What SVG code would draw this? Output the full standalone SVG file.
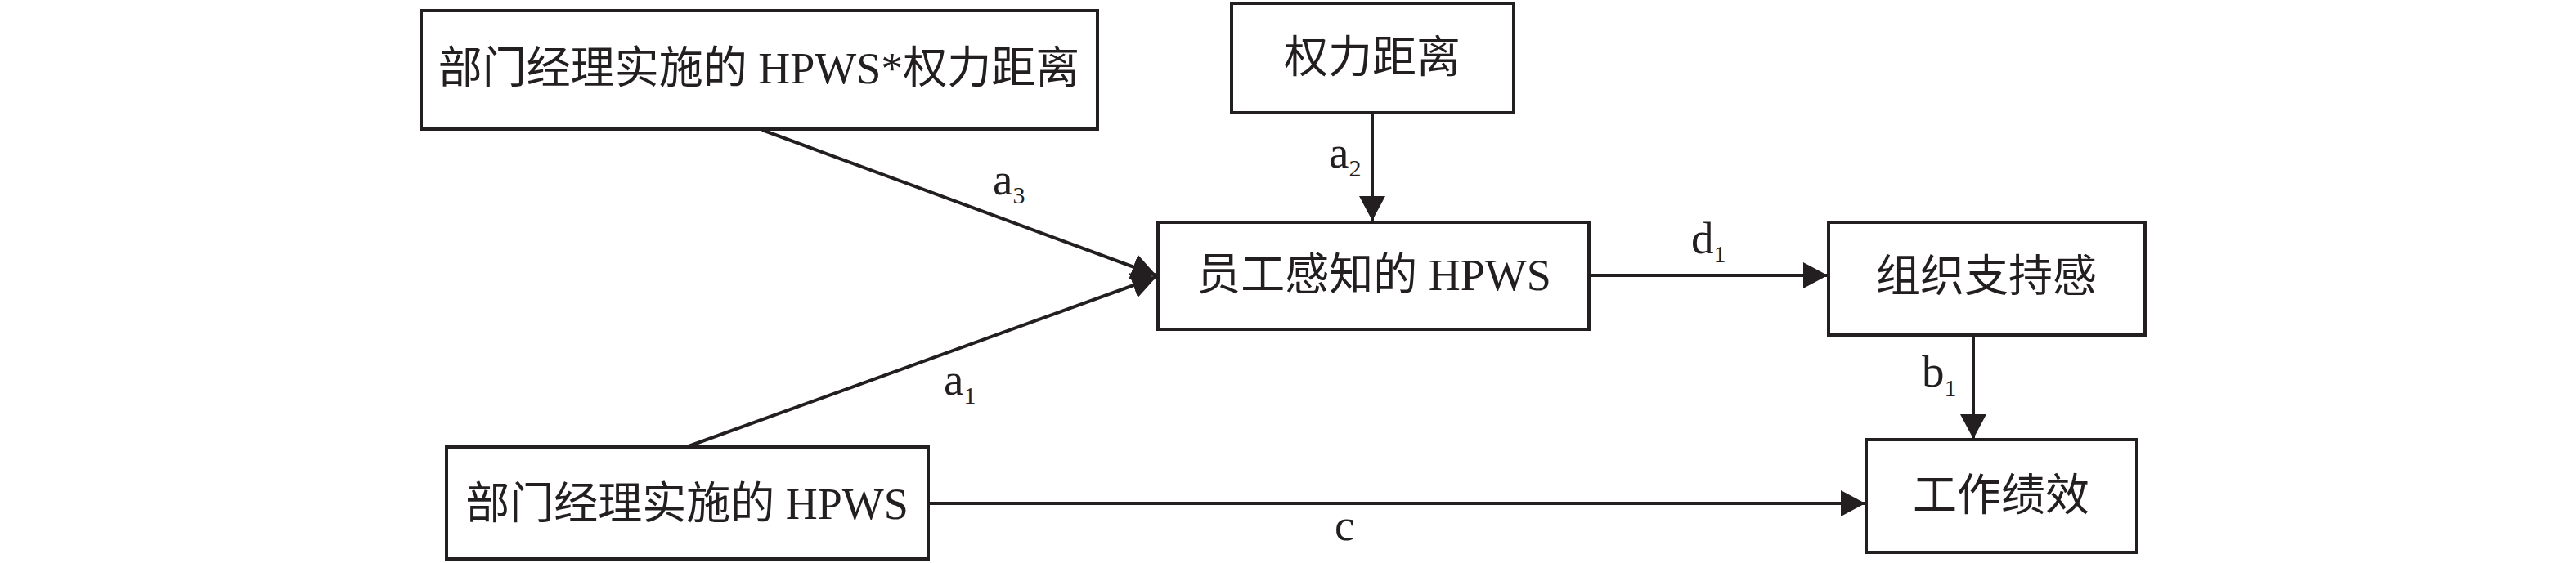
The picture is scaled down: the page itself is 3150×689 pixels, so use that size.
<svg xmlns="http://www.w3.org/2000/svg" width="3150" height="689" viewBox="0 0 3150 689">
<style>
.box{fill:#fff;stroke:#231f20;stroke-width:4}
.t{font-family:"Liberation Serif","Noto Sans CJK SC",serif;font-size:54px;fill:#231f20;text-anchor:middle}
.lbl{font-family:"Liberation Serif",serif;font-size:55px;fill:#231f20}
.sub{font-size:30px}
.ln{stroke:#231f20;stroke-width:4;fill:none}
</style>
<defs>
<marker id="arr" markerUnits="userSpaceOnUse" markerWidth="32" markerHeight="34" refX="30" refY="16" orient="auto" viewBox="0 0 32 34">
<path d="M0,0 L30,16 L0,32 Z" fill="#231f20"/>
</marker>
</defs>
<rect width="3150" height="689" fill="#fff"/>
<g id="connectors">
<line class="ln" x1="932" y1="159" x2="1414" y2="337" marker-end="url(#arr)"/>
<line class="ln" x1="842" y1="546" x2="1414" y2="339" marker-end="url(#arr)"/>
<line class="ln" x1="1678" y1="139" x2="1678" y2="270" marker-end="url(#arr)"/>
<line class="ln" x1="1943" y1="337" x2="2235" y2="337" marker-end="url(#arr)"/>
<line class="ln" x1="2413" y1="410" x2="2413" y2="537" marker-end="url(#arr)"/>
<line class="ln" x1="1135" y1="616" x2="2281" y2="616" marker-end="url(#arr)"/>
<text class="lbl" x="1214" y="238">a<tspan class="sub" dy="11">3</tspan></text>
<text class="lbl" x="1154" y="483">a<tspan class="sub" dy="11">1</tspan></text>
<text class="lbl" x="1625" y="205">a<tspan class="sub" dy="11">2</tspan></text>
<text class="lbl" x="2068" y="310">d<tspan class="sub" dy="11">1</tspan></text>
<text class="lbl" x="2350" y="473">b<tspan class="sub" dy="12">1</tspan></text>
<text class="lbl" x="1632" y="661">c</text>
</g>
<g id="node-interaction">
<rect class="box" x="515" y="13" width="827" height="145"/>
<text class="t" x="928" y="102">部门经理实施的 HPWS*权力距离</text>
</g>
<g id="node-power-distance">
<rect class="box" x="1506" y="4" width="345" height="134"/>
<text class="t" x="1678" y="89">权力距离</text>
</g>
<g id="node-perceived-hpws">
<rect class="box" x="1416" y="272" width="527" height="131"/>
<text class="t" x="1680" y="355">员工感知的 HPWS</text>
</g>
<g id="node-pos">
<rect class="box" x="2236" y="272" width="387" height="138"/>
<text class="t" x="2429" y="357">组织支持感</text>
</g>
<g id="node-implemented-hpws">
<rect class="box" x="546" y="547" width="589" height="137"/>
<text class="t" x="840" y="635">部门经理实施的 HPWS</text>
</g>
<g id="node-performance">
<rect class="box" x="2282" y="538" width="331" height="138"/>
<text class="t" x="2447" y="625">工作绩效</text>
</g>
</svg>
